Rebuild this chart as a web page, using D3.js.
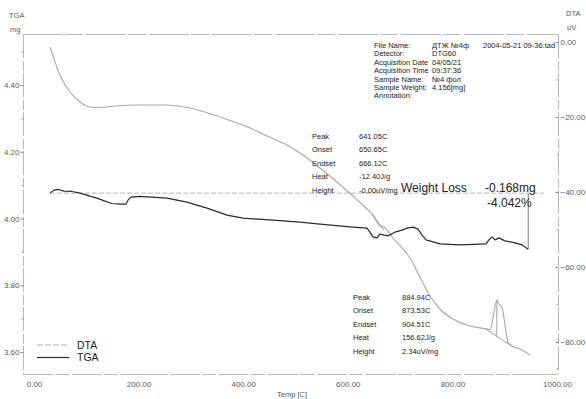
<!DOCTYPE html>
<html>
<head>
<meta charset="utf-8">
<script src="https://cdn.jsdelivr.net/npm/d3@7/dist/d3.min.js"></script>
<style>
  html, body { margin: 0; padding: 0; background: #fff; }
  svg { display: block; font-family: "Liberation Sans", Arial, sans-serif; }
</style>
</head>
<body>
<svg id="chart" width="586" height="399"></svg>
<script>
// DTA signal (uV) versus temperature (C)
const dtaTemp = [30.6, 40.2, 49.7, 68.8, 88.0, 107.1, 126.2, 154.9, 202.7, 250.5, 298.3, 355.6, 413.0, 445.5,
  483.7, 508.6, 546.8, 609.9, 634.8, 646.3, 653.9, 661.6, 669.2, 686.4, 718.9, 738.0, 757.2, 776.3, 801.1,
  833.7, 866.2, 871.9, 877.6, 884.9, 889.1, 894.8, 900.6, 906.3, 913.9, 929.3, 948.4];
const dtaValue = [-1.33, -5.33, -8.8, -13.33, -16.0, -17.33, -17.47, -17.07, -16.8, -16.8, -17.6, -20.0, -22.93, -25.07,
  -27.47, -29.6, -33.6, -41.07, -44.27, -45.87, -47.47, -49.07, -49.33, -52.27, -57.6, -62.67, -67.73, -71.2, -73.87,
  -75.73, -76.53, -76.67, -73.6, -68.8, -69.87, -70.67, -75.47, -80.0, -81.07, -81.87, -83.47];

// TGA mass (mg) versus temperature (C)
const tgaTemp = [30.6, 38.2, 45.9, 57.4, 72.7, 88.0, 107.1, 120.5, 135.8, 149.1, 164.4, 175.9, 179.7, 185.5, 202.7,
  254.3, 292.5, 330.8, 369.0, 399.6, 457.0, 508.6, 546.8, 609.9, 636.7, 642.4, 648.2, 655.8, 661.6, 669.2, 676.9,
  690.2, 703.6, 713.2, 724.7, 734.2, 741.9, 749.5, 776.3, 814.5, 864.2, 870.0, 875.7, 881.5, 889.1, 900.6, 919.7,
  933.1, 944.6];
const tgaValue = [4.076, 4.085, 4.087, 4.082, 4.081, 4.076, 4.067, 4.061, 4.052, 4.045, 4.043, 4.043, 4.055, 4.064, 4.066,
  4.061, 4.049, 4.031, 4.010, 4.001, 3.995, 3.989, 3.983, 3.974, 3.971, 3.959, 3.945, 3.942, 3.953, 3.950, 3.948,
  3.959, 3.965, 3.971, 3.974, 3.968, 3.950, 3.936, 3.924, 3.921, 3.924, 3.936, 3.945, 3.936, 3.942, 3.933, 3.927,
  3.921, 3.908];

// Tick values
const xTicks = [0, 200, 400, 600, 800, 1000];
const tgaTicks = [3.60, 3.80, 4.00, 4.20, 4.40];
const tgaMinorTicks = [3.70, 3.90, 4.10, 4.30, 4.50];
const dtaTicks = [0, -20, -40, -60, -80];
const dtaMinorTicks = [-10, -30, -50, -70, -87];

// Sample information block
const infoLabels = ["File Name:", "Detector:", "Acquisition Date", "Acquisition Time", "Sample Name:", "Sample Weight:", "Annotation:"];
const infoValues = ["ДТЖ №4ф", "DTG60", "04/05/21", "09:37:36", "№4 фол", "4.156[mg]", ""];
const fileStamp = "2004-05-21 09-36.tad";

// Peak analysis results
const peakLabels = ["Peak", "Onset", "Endset", "Heat", "Height"];
const peak1Values = ["641.05C", "650.65C", "666.12C", "-12.40J/g", "-0.00uV/mg"];
const peak2Values = ["884.94C", "873.53C", "904.51C", "156.62J/g", "2.34uV/mg"];
const peak1Base = { t: [646.3, 669.2], v: [-45.87, -50.2] };
const peak2Base = { t: [862.0, 912.0], v: [-76.4, -80.9] };
const peak2Temp = 884.9;
const peak2Top = -68.8;

// Weight loss step
const wlStart = 4.076;
const wlLoss = 0.168;
const wlPercent = "-4.042%";
const wlTemp = 945;

const svg = d3.select("#chart");
const L = 23, R = 558, T = 34, B = 374;

const x = d3.scaleLinear().domain([0, 1000]).range([34, 557]);
const yTga = d3.scaleLinear().domain([3.60, 4.40]).range([352, 85]);
const yDta = d3.scaleLinear().domain([-80, 0]).range([342, 42]);

const frameColor = "#b8b8b8";
const labelColor = "#5a5a5a";

// Frame
const frame = svg.append("g").attr("stroke", frameColor).attr("stroke-width", 1).attr("fill", "none");
frame.append("line").attr("x1", L).attr("x2", R).attr("y1", T + 0.5).attr("y2", T + 0.5).attr("stroke-dasharray", "40,2,18,3");
frame.append("line").attr("x1", L).attr("x2", R).attr("y1", B + 0.5).attr("y2", B + 0.5).attr("stroke-dasharray", "30,2,14,3");
frame.append("line").attr("x1", L + 0.5).attr("x2", L + 0.5).attr("y1", T).attr("y2", B).attr("stroke-dasharray", "24,3,10,2");
frame.append("line").attr("x1", R + 0.5).attr("x2", R + 0.5).attr("y1", T).attr("y2", B).attr("stroke-dasharray", "24,3,10,2");

// Left (TGA) axis
const leftAxis = svg.append("g").attr("transform", `translate(${L + 0.5},0)`)
  .call(d3.axisLeft(yTga).tickValues(tgaTicks).tickFormat(d3.format(".2f")).tickSize(3).tickPadding(1));
leftAxis.select(".domain").remove();
leftAxis.selectAll("line").attr("stroke", "#888");
leftAxis.selectAll("text").attr("fill", labelColor).attr("font-size", 8).attr("font-family", "Liberation Sans Narrow, Liberation Sans, sans-serif");
const leftMinor = svg.append("g").attr("transform", `translate(${L + 0.5},0)`)
  .call(d3.axisLeft(yTga).tickValues(tgaMinorTicks).tickFormat("").tickSize(2));
leftMinor.select(".domain").remove();
leftMinor.selectAll("line").attr("stroke", "#999");

// Right (DTA) axis
const rightAxis = svg.append("g").attr("transform", `translate(${R + 0.5},0)`)
  .call(d3.axisRight(yDta).tickValues(dtaTicks).tickFormat(d3.format(".2f")).tickSize(-3).tickPadding(2));
rightAxis.select(".domain").remove();
rightAxis.selectAll("line").attr("stroke", "#888");
rightAxis.selectAll("text").attr("fill", labelColor).attr("font-size", 8).attr("font-family", "Liberation Sans Narrow, Liberation Sans, sans-serif");
const rightMinor = svg.append("g").attr("transform", `translate(${R + 0.5},0)`)
  .call(d3.axisRight(yDta).tickValues(dtaMinorTicks).tickFormat("").tickSize(-2));
rightMinor.select(".domain").remove();
rightMinor.selectAll("line").attr("stroke", "#999");

// Bottom (temperature) axis
const bottomAxis = svg.append("g").attr("transform", `translate(0,${B})`)
  .call(d3.axisBottom(x).tickValues(xTicks).tickFormat(d3.format(".2f")).tickSize(0).tickPadding(7));
bottomAxis.select(".domain").remove();
bottomAxis.selectAll("text").attr("fill", labelColor).attr("font-size", 8).attr("font-family", "Liberation Sans Narrow, Liberation Sans, sans-serif");

// Axis titles
const titleStyle = s => s.attr("fill", labelColor).attr("font-size", 7.5).attr("font-family", "Liberation Sans Narrow, Liberation Sans, sans-serif");
svg.append("text").attr("x", 9).attr("y", 18).text("TGA").call(titleStyle);
svg.append("text").attr("x", 10).attr("y", 32).text("mg").call(titleStyle);
svg.append("text").attr("x", 566).attr("y", 16).text("DTA").call(titleStyle);
svg.append("text").attr("x", 567).attr("y", 30).text("uV").call(titleStyle);
svg.append("text").attr("x", 277).attr("y", 397).text("Temp [C]").call(titleStyle);

// Weight-loss reference line
svg.append("line")
  .attr("x1", x(dtaTemp[0])).attr("x2", x(975))
  .attr("y1", yTga(wlStart)).attr("y2", yTga(wlStart))
  .attr("stroke", "#b5b5b5").attr("stroke-width", 1).attr("stroke-dasharray", "5,2");
svg.append("line")
  .attr("x1", x(wlTemp)).attr("x2", x(wlTemp))
  .attr("y1", yTga(wlStart)).attr("y2", yTga(wlStart - wlLoss))
  .attr("stroke", "#666").attr("stroke-width", 0.8);

// DTA curve
const dtaData = dtaTemp.map((t, i) => [t, dtaValue[i]]);
const dtaLine = d3.line().x(d => x(d[0])).y(d => yDta(d[1])).curve(d3.curveMonotoneX);
svg.append("path").datum(dtaData).attr("d", dtaLine)
  .attr("fill", "none").attr("stroke", "#a8a8a8").attr("stroke-width", 1.1);

// Peak baselines
const baseLine = d3.line().x(d => x(d[0])).y(d => yDta(d[1]));
[peak1Base, peak2Base].forEach(b => {
  svg.append("path").datum(b.t.map((t, i) => [t, b.v[i]])).attr("d", baseLine)
    .attr("fill", "none").attr("stroke", "#8a8a8a").attr("stroke-width", 0.8);
});
const p2BaseAt = d3.scaleLinear().domain(peak2Base.t).range(peak2Base.v);
svg.append("line")
  .attr("x1", x(peak2Temp)).attr("x2", x(peak2Temp))
  .attr("y1", yDta(peak2Top)).attr("y2", yDta(p2BaseAt(peak2Temp)))
  .attr("stroke", "#8a8a8a").attr("stroke-width", 0.8);

// TGA curve
const tgaData = tgaTemp.map((t, i) => [t, tgaValue[i]]);
const tgaLine = d3.line().x(d => x(d[0])).y(d => yTga(d[1]));
svg.append("path").datum(tgaData).attr("d", tgaLine)
  .attr("fill", "none").attr("stroke", "#2b2b2b").attr("stroke-width", 1.2).attr("stroke-linejoin", "round");

// Sample information
const info = svg.append("g").attr("font-size", 7.5).attr("fill", "#222");
infoLabels.forEach((s, i) => {
  info.append("text").attr("x", 374).attr("y", 48 + i * 8.4).text(s);
  if (infoValues[i]) info.append("text").attr("x", 432).attr("y", 48 + i * 8.4).text(infoValues[i]);
});
info.append("text").attr("x", 483).attr("y", 48).text(fileStamp);

// Peak result blocks
function peakBlock(lx, vx, y0, values) {
  const g = svg.append("g").attr("font-size", 7.5).attr("fill", "#222");
  peakLabels.forEach((s, i) => {
    g.append("text").attr("x", lx).attr("y", y0 + i * 13.4).text(s);
    g.append("text").attr("x", vx).attr("y", y0 + i * 13.4).text(values[i]);
  });
}
peakBlock(312, 359, 139, peak1Values);
peakBlock(353, 402, 300, peak2Values);

// Weight loss annotation
const wl = svg.append("g").attr("font-size", 12).attr("fill", "#222");
wl.append("text").attr("x", 401).attr("y", 192).text("Weight Loss");
wl.append("text").attr("x", 485).attr("y", 192).text((-wlLoss).toFixed(3) + "mg");
wl.append("text").attr("x", 487).attr("y", 207).text(wlPercent);

// Legend
const lg = svg.append("g");
lg.append("line").attr("x1", 37).attr("x2", 69).attr("y1", 345).attr("y2", 345)
  .attr("stroke", "#b0b0b0").attr("stroke-width", 1).attr("stroke-dasharray", "6,2");
lg.append("line").attr("x1", 37).attr("x2", 69).attr("y1", 357.5).attr("y2", 357.5)
  .attr("stroke", "#2b2b2b").attr("stroke-width", 1.2);
lg.append("text").attr("x", 77).attr("y", 349).attr("font-size", 10.5).attr("fill", "#222").text("DTA");
lg.append("text").attr("x", 77).attr("y", 361).attr("font-size", 10.5).attr("fill", "#222").text("TGA");
</script>
</body>
</html>
